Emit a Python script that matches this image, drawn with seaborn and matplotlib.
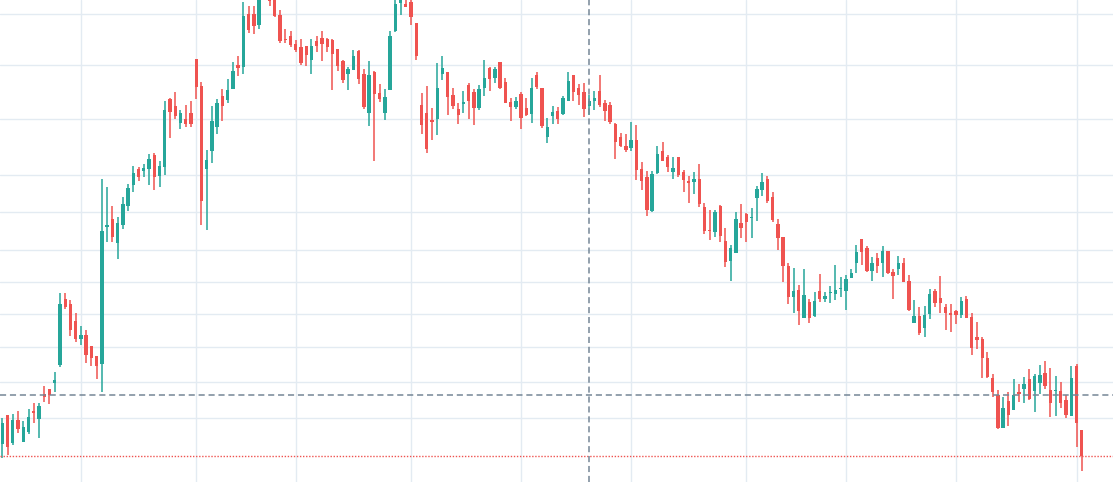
import numpy as np
import matplotlib
matplotlib.use("Agg")
import matplotlib.pyplot as plt
import seaborn as sns

# OHLC (arbitrary price units, one candle per session)
opens = [36, 65, 37, 60, 38, 48, 69, 61, 86, 91,
         97, 115, 181, 176, 159, 141, 145, 134, 124, 116,
         253, 261, 237, 255, 274, 295, 311, 309, 311, 325,
         304, 313, 381, 374, 357, 361, 367, 421, 394, 311,
         329, 353, 384, 380, 391, 415, 413, 466, 466, 455,
         485, 488, 480, 465, 441, 444, 436, 433, 434, 420,
         439, 442, 441, 440, 431, 419, 406, 410, 429, 406,
         367, 408, 387, 367, 390, 449, 477, 476, 478, 457,
         375, 367, 360, 361, 406, 408, 385, 371, 376, 395,
         388, 372, 392, 412, 402, 418, 398, 378, 373, 386,
         372, 366, 405, 392, 343, 364, 369, 366, 379, 405,
         392, 388, 374, 379, 389, 377, 375, 356, 343, 334,
         332, 340, 311, 303, 269, 307, 329, 323, 308, 323,
         308, 299, 298, 301, 273, 250, 248, 274, 239, 219,
         227, 257, 266, 262, 282, 290, 301, 283, 256, 243,
         214, 183, 190, 162, 178, 164, 189, 181, 187, 186,
         191, 189, 202, 217, 241, 232, 209, 222, 217, 229,
         208, 211, 217, 199, 157, 164, 152, 166, 189, 182,
         173, 167, 169, 165, 181, 163, 143, 141, 122, 102,
         85, 52, 79, 70, 88, 91, 101, 89, 97, 107,
         90, 89, 89, 80, 64, 114, 50]

highs = [62, 65, 66, 69, 59, 71, 77, 77, 94, 91,
         108, 187, 187, 180, 167, 154, 150, 134, 124, 301,
         293, 274, 263, 283, 296, 314, 313, 316, 326, 327,
         319, 379, 382, 388, 370, 375, 379, 421, 398, 330,
         374, 381, 391, 401, 418, 424, 478, 474, 474, 488,
         505, 490, 483, 470, 451, 449, 440, 441, 434, 441,
         444, 449, 442, 441, 431, 420, 413, 430, 430, 411,
         419, 409, 396, 391, 449, 480, 483, 480, 480, 457,
         387, 394, 372, 417, 424, 408, 392, 377, 389, 397,
         391, 395, 420, 413, 413, 418, 402, 382, 383, 388,
         382, 402, 408, 392, 362, 374, 373, 384, 408, 405,
         396, 397, 385, 389, 405, 380, 378, 357, 347, 346,
         358, 355, 318, 309, 309, 334, 338, 325, 323, 323,
         310, 304, 308, 316, 277, 270, 270, 275, 252, 235,
         268, 276, 267, 272, 294, 307, 304, 288, 261, 243,
         217, 212, 195, 211, 181, 188, 206, 188, 194, 215,
         203, 205, 211, 235, 241, 234, 223, 227, 234, 229,
         211, 224, 222, 205, 180, 173, 174, 191, 191, 204,
         176, 176, 170, 183, 184, 167, 158, 143, 128, 106,
         90, 83, 88, 101, 96, 103, 111, 106, 115, 119,
         112, 104, 98, 85, 114, 116, 50]

lows = [22, 25, 35, 47, 38, 46, 57, 42, 78, 76,
        88, 113, 171, 144, 138, 135, 117, 114, 101, 88,
        238, 238, 221, 251, 269, 288, 299, 303, 295, 290,
        293, 305, 342, 361, 351, 353, 353, 381, 255, 250,
        317, 346, 359, 377, 391, 404, 406, 447, 446, 451,
        483, 474, 463, 437, 437, 433, 428, 415, 414, 406,
        428, 419, 428, 390, 409, 397, 390, 410, 396, 371,
        354, 319, 378, 360, 390, 448, 465, 473, 455, 420,
        346, 327, 340, 345, 400, 365, 371, 356, 367, 361,
        355, 370, 384, 389, 397, 391, 377, 359, 371, 351,
        364, 357, 391, 352, 337, 356, 356, 365, 379, 379,
        375, 363, 365, 370, 373, 359, 356, 321, 333, 328,
        329, 300, 290, 264, 268, 306, 319, 308, 301, 303,
        288, 277, 286, 273, 246, 240, 243, 238, 213, 199,
        227, 242, 238, 242, 259, 284, 277, 258, 230, 198,
        176, 167, 155, 162, 157, 163, 178, 178, 177, 180,
        183, 170, 202, 207, 215, 208, 199, 207, 203, 206,
        181, 205, 198, 169, 157, 145, 143, 161, 173, 167,
        150, 148, 156, 162, 162, 125, 131, 102, 102, 83,
        51, 52, 54, 70, 78, 77, 80, 68, 86, 91,
        63, 64, 72, 62, 64, 33, 9]

closes = [57, 33, 60, 51, 53, 63, 67, 74, 83, 85,
          100, 176, 173, 150, 141, 145, 125, 122, 114, 249,
          255, 243, 257, 276, 292, 307, 303, 312, 321, 303,
          314, 370, 368, 364, 367, 356, 356, 393, 279, 320,
          359, 377, 374, 390, 409, 412, 464, 450, 454, 483,
          498, 479, 464, 439, 440, 435, 430, 417, 425, 434,
          434, 436, 433, 426, 414, 400, 411, 424, 401, 373,
          405, 386, 381, 383, 444, 476, 480, 473, 463, 424,
          355, 331, 358, 392, 412, 383, 374, 365, 378, 379,
          372, 391, 402, 401, 411, 392, 377, 373, 379, 362,
          365, 392, 393, 354, 353, 368, 361, 382, 399, 388,
          385, 371, 379, 382, 375, 369, 358, 338, 334, 330,
          340, 310, 299, 270, 306, 326, 319, 313, 312, 305,
          300, 297, 301, 276, 249, 249, 268, 244, 218, 232,
          261, 252, 258, 263, 291, 298, 279, 260, 242, 214,
          183, 189, 169, 185, 162, 179, 181, 184, 188, 190,
          192, 201, 207, 228, 228, 209, 217, 214, 229, 207,
          204, 217, 198, 170, 164, 147, 165, 186, 177, 177,
          167, 165, 165, 179, 162, 132, 140, 122, 103, 88,
          52, 72, 65, 85, 86, 96, 81, 104, 105, 94,
          77, 90, 77, 65, 102, 57, 24]

# grid levels (price) and grid sessions (candle index)
grid_prices = [466, 415, 361, 305, 268, 230, 198, 166, 133, 98, 62]
grid_sessions = [15, 37, 56, 78, 99, 120, 142, 161, 182, 205]

# crosshair position
cross_session = 112
cross_price = 85

UP = "#26a69a"
DOWN = "#ef5350"

sns.set_theme(style="white")

o = np.array(opens, dtype=float)
h = np.array(highs, dtype=float)
l = np.array(lows, dtype=float)
c = np.array(closes, dtype=float)
idx = np.arange(len(o))
colors = np.where(c >= o, UP, DOWN)

fig = plt.figure(figsize=(11.13, 4.82), dpi=100)
ax = fig.add_axes([0, 0, 1, 1])
ax.set_facecolor("white")

# wicks and bodies
ax.vlines(idx, l, h, colors=colors, linewidth=1.1, zorder=3)
body_lo = np.minimum(o, c)
body_h = np.maximum(np.abs(c - o), 1.0)
ax.bar(idx, body_h, bottom=body_lo, width=0.64, color=colors, linewidth=0, zorder=4)

# grid
ax.set_xticks(grid_sessions)
ax.set_yticks(grid_prices)
ax.grid(True, color="#e3ebf2", linewidth=1.0, zorder=0)
ax.set_axisbelow(True)
ax.tick_params(length=0, labelleft=False, labelbottom=False)
for s in ax.spines.values():
    s.set_visible(False)

# last price line
ax.axhline(c[-1], color=DOWN, linewidth=1.0, linestyle=(0, (1, 1.2)), zorder=5)

# crosshair
ax.axhline(cross_price, color="#758696", linewidth=1.1, linestyle=(0, (4, 2.5)), zorder=6)
ax.axvline(cross_session, color="#758696", linewidth=1.1, linestyle=(0, (4, 2.5)), zorder=6)

ax.set_xlim(-0.44, 211.96)
ax.set_ylim(-2, 480)

fig.savefig("out.png", dpi=100)
